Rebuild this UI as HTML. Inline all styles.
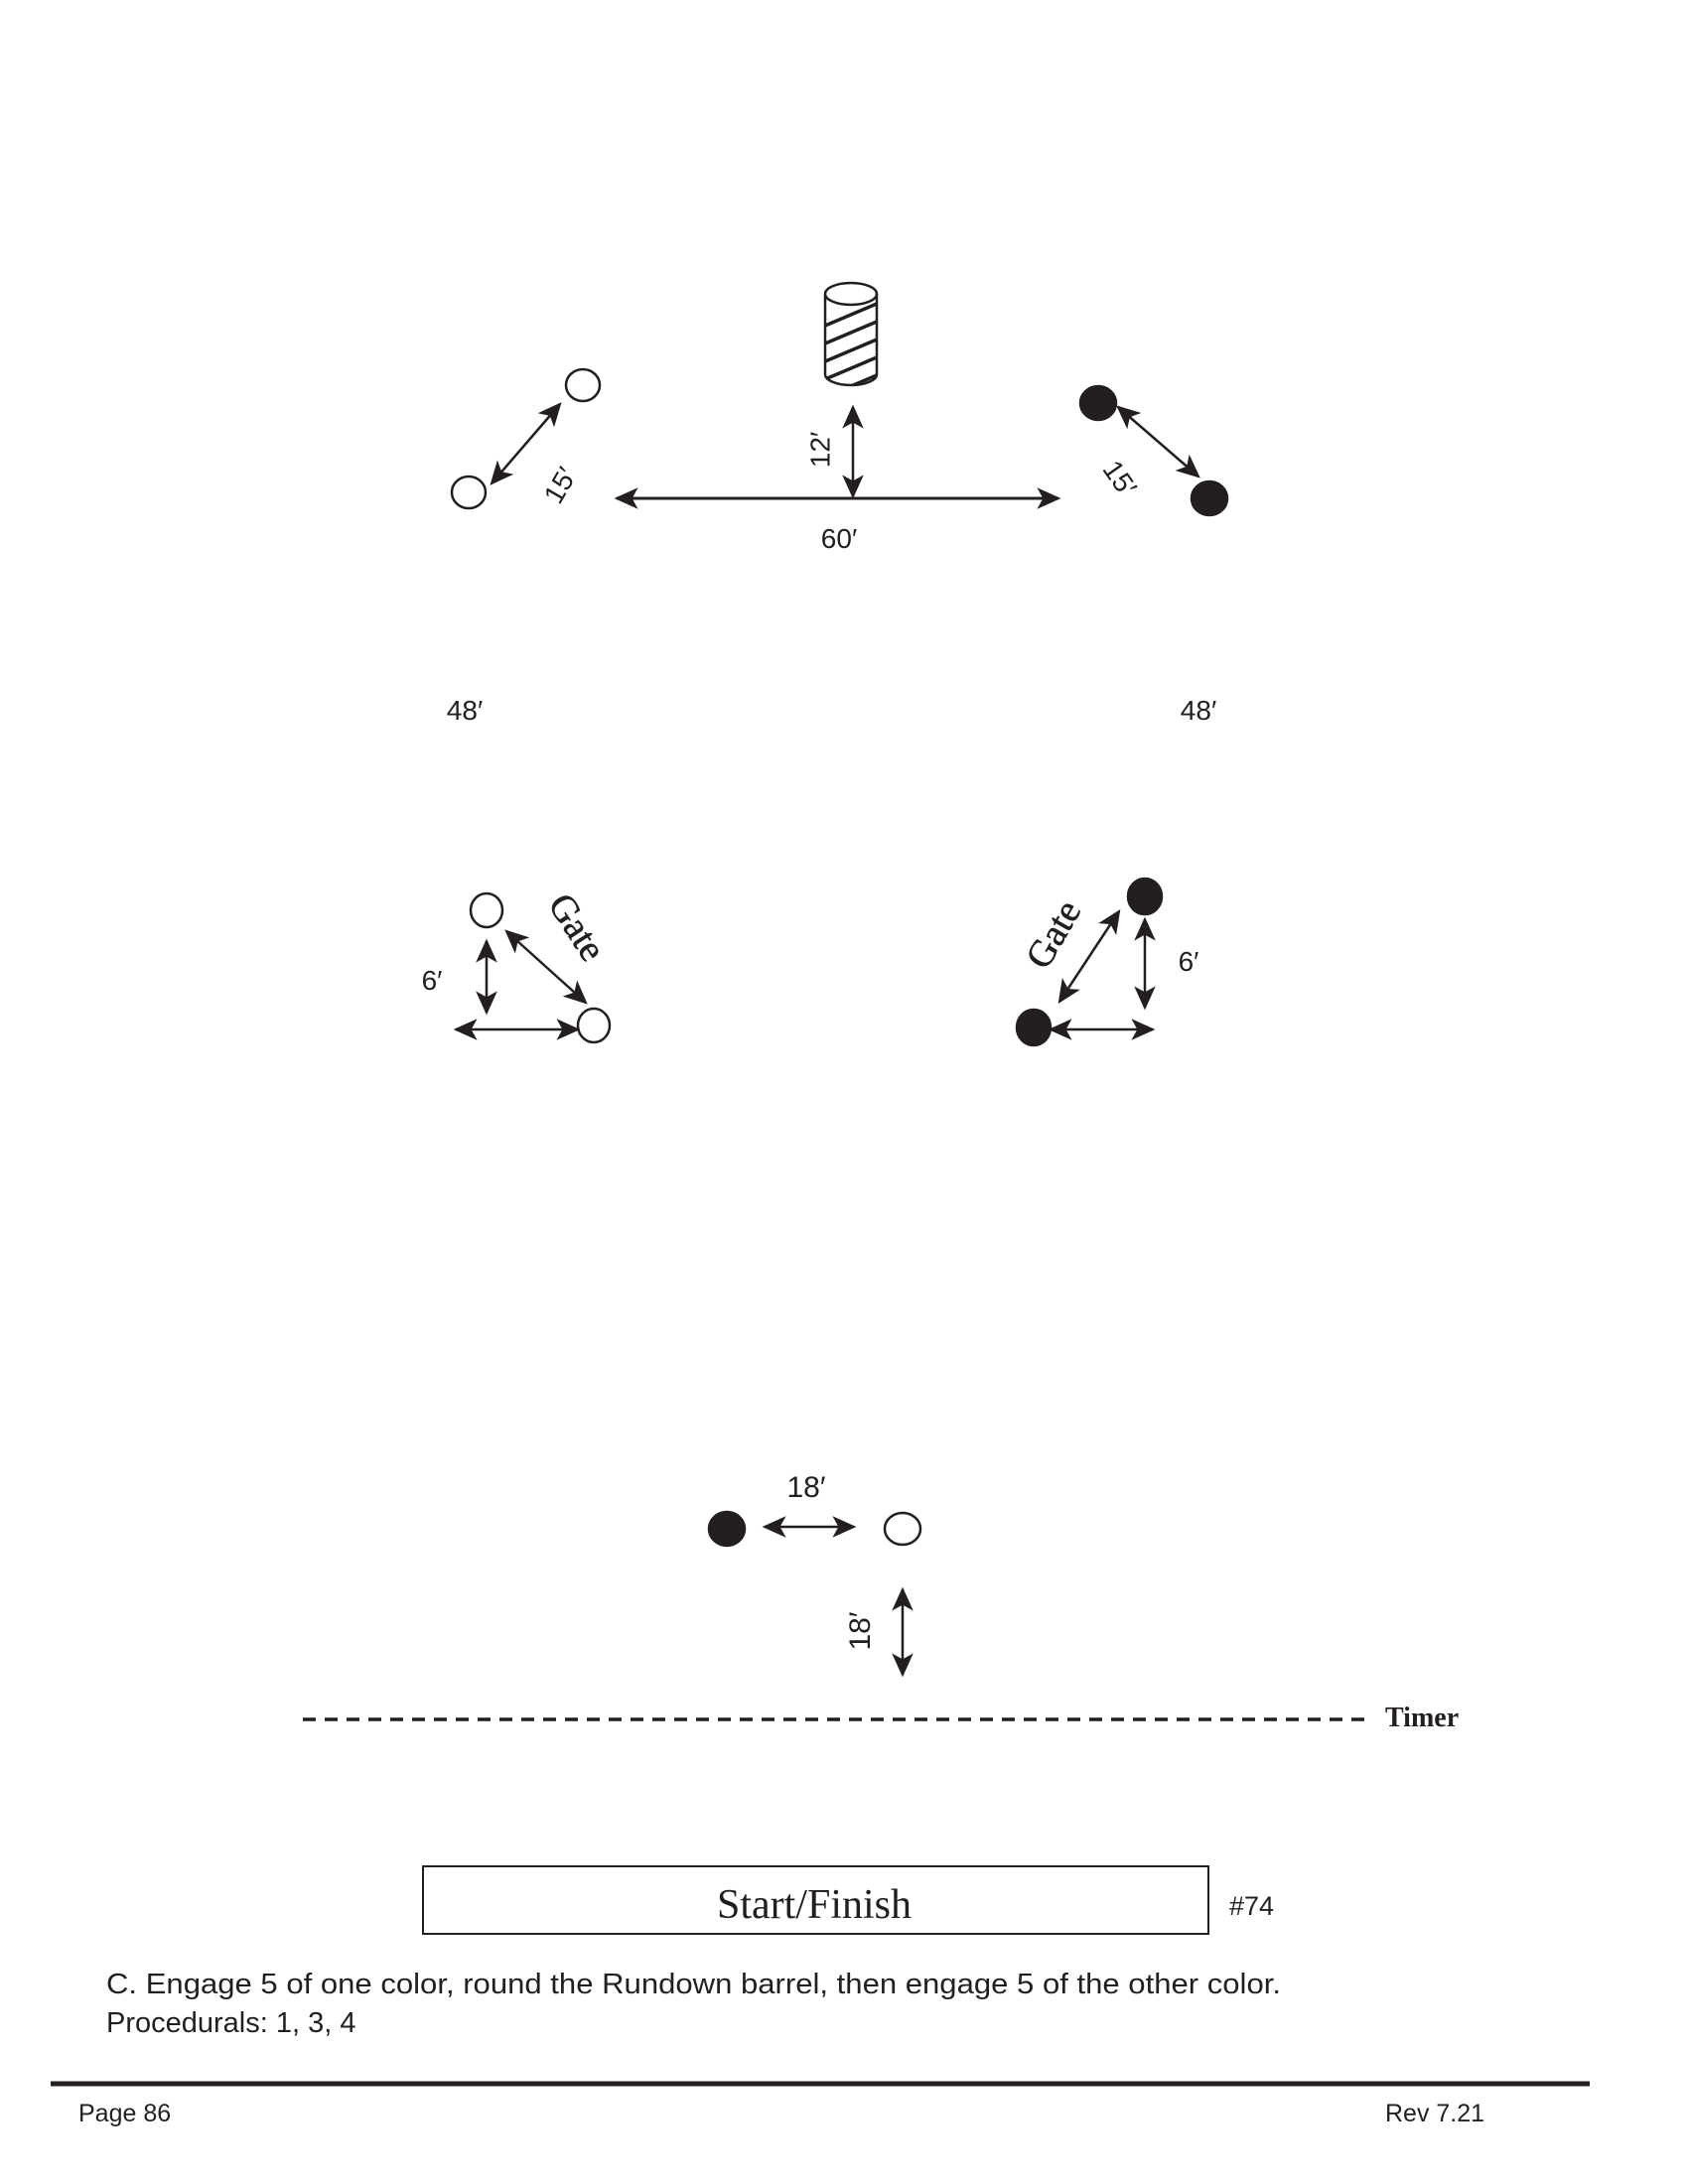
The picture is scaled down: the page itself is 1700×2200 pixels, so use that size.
<!DOCTYPE html>
<html><head><meta charset="utf-8"><style>
html,body{margin:0;padding:0;background:#fff;}
svg{display:block;}
.s{font-family:"Liberation Sans",sans-serif;fill:#231f20;}
.r{font-family:"Liberation Serif",serif;fill:#231f20;}
</style></head><body>
<svg width="1700" height="2200" viewBox="0 0 1700 2200" xmlns="http://www.w3.org/2000/svg">
<defs>
<marker id="a" viewBox="0 0 20 20" refX="18" refY="10" markerWidth="24" markerHeight="24" markerUnits="userSpaceOnUse" orient="auto-start-reverse">
<path d="M0,1 L20,10 L0,19 L5,10 Z" fill="#231f20"/>
</marker>
<clipPath id="bc"><path d="M831,296 L831,377 A26,11 0 0 0 883,377 L883,296 Z"/></clipPath>
</defs>
<g stroke="#231f20" stroke-width="2.5" fill="none">
<path d="M831,296 L831,377 A26,11 0 0 0 883,377 L883,296"/>
<ellipse cx="857" cy="296" rx="26" ry="11" fill="#fff"/>
<g clip-path="url(#bc)" stroke-width="3.5">
<line x1="831" y1="328" x2="883" y2="306"/>
<line x1="831" y1="346" x2="883" y2="324"/>
<line x1="831" y1="364" x2="883" y2="342"/>
<line x1="831" y1="382" x2="883" y2="360"/>
<line x1="831" y1="400" x2="883" y2="378"/>
</g>
<ellipse cx="472" cy="496" rx="17" ry="16"/>
<ellipse cx="587" cy="388" rx="17" ry="16"/>
<ellipse cx="1106" cy="406" rx="18" ry="17" fill="#231f20"/>
<ellipse cx="1218" cy="502" rx="18" ry="17" fill="#231f20"/>
<line x1="495" y1="487" x2="564" y2="407" marker-start="url(#a)" marker-end="url(#a)"/>
<line x1="621" y1="502" x2="1066" y2="502" marker-start="url(#a)" marker-end="url(#a)" stroke-width="3"/>
<line x1="859" y1="410" x2="859" y2="500" marker-start="url(#a)" marker-end="url(#a)"/>
<line x1="1126" y1="410" x2="1207" y2="480" marker-start="url(#a)" marker-end="url(#a)"/>
<ellipse cx="490" cy="917" rx="16" ry="17"/>
<ellipse cx="598" cy="1033" rx="16" ry="17"/>
<line x1="490" y1="948" x2="490" y2="1020" marker-start="url(#a)" marker-end="url(#a)"/>
<line x1="459" y1="1037" x2="582" y2="1037" marker-start="url(#a)" marker-end="url(#a)"/>
<line x1="510" y1="938" x2="590" y2="1010" marker-start="url(#a)" marker-end="url(#a)"/>
<ellipse cx="1153" cy="903" rx="17" ry="18" fill="#231f20"/>
<ellipse cx="1041" cy="1035" rx="17" ry="18" fill="#231f20"/>
<line x1="1153" y1="926" x2="1153" y2="1015" marker-start="url(#a)" marker-end="url(#a)"/>
<line x1="1058" y1="1037" x2="1161" y2="1037" marker-start="url(#a)" marker-end="url(#a)"/>
<line x1="1067" y1="1009" x2="1127" y2="918" marker-start="url(#a)" marker-end="url(#a)"/>
<ellipse cx="732" cy="1540" rx="18" ry="17" fill="#231f20"/>
<ellipse cx="909" cy="1540" rx="18" ry="16"/>
<line x1="770" y1="1538" x2="860" y2="1538" marker-start="url(#a)" marker-end="url(#a)"/>
<line x1="909" y1="1601" x2="909" y2="1687" marker-start="url(#a)" marker-end="url(#a)"/>
<line x1="305" y1="1732" x2="1379" y2="1732" stroke-width="3.5" stroke-dasharray="13,9"/>
<rect x="426" y="1880" width="791" height="68" stroke-width="2"/>
<line x1="51" y1="2099" x2="1601" y2="2099" stroke-width="5"/>
</g>
<g class="s" font-size="28">
<text x="566" y="490" text-anchor="middle" dominant-baseline="middle" transform="rotate(-60 566 490)">15′</text>
<text x="1126" y="483" text-anchor="middle" dominant-baseline="middle" transform="rotate(55 1126 483)">15′</text>
<text x="828" y="453" text-anchor="middle" dominant-baseline="middle" transform="rotate(-90 828 453)">12′</text>
<text x="845" y="552" text-anchor="middle">60′</text>
<text x="468" y="725" text-anchor="middle">48′</text>
<text x="1207" y="725" text-anchor="middle">48′</text>
<text x="435" y="997" text-anchor="middle">6′</text>
<text x="1197" y="978" text-anchor="middle">6′</text>
<text x="812" y="1508" text-anchor="middle" font-size="30">18′</text>
<text x="868" y="1643" text-anchor="middle" dominant-baseline="middle" font-size="30" transform="rotate(-90 868 1643)">18′</text>
<text x="1238" y="1929" font-size="27">#74</text>
<text x="107" y="2008" font-size="29" textLength="1183" lengthAdjust="spacingAndGlyphs">C. Engage 5 of one color, round the Rundown barrel, then engage 5 of the other color.</text>
<text x="107" y="2047" font-size="29">Procedurals: 1, 3, 4</text>
<text x="79" y="2137" font-size="25">Page 86</text>
<text x="1395" y="2137" font-size="25">Rev 7.21</text>
</g>
<g class="r">
<text x="578" y="936" font-size="38" stroke="#231f20" stroke-width="0.6" text-anchor="middle" dominant-baseline="middle" transform="rotate(57 578 936)">Gate</text>
<text x="1064" y="943" font-size="38" stroke="#231f20" stroke-width="0.6" text-anchor="middle" dominant-baseline="middle" transform="rotate(-60 1064 943)">Gate</text>
<text x="1395" y="1739" font-size="28" font-weight="bold">Timer</text>
<text x="820" y="1932" font-size="42" text-anchor="middle">Start/Finish</text>
</g>
</svg>
</body></html>
